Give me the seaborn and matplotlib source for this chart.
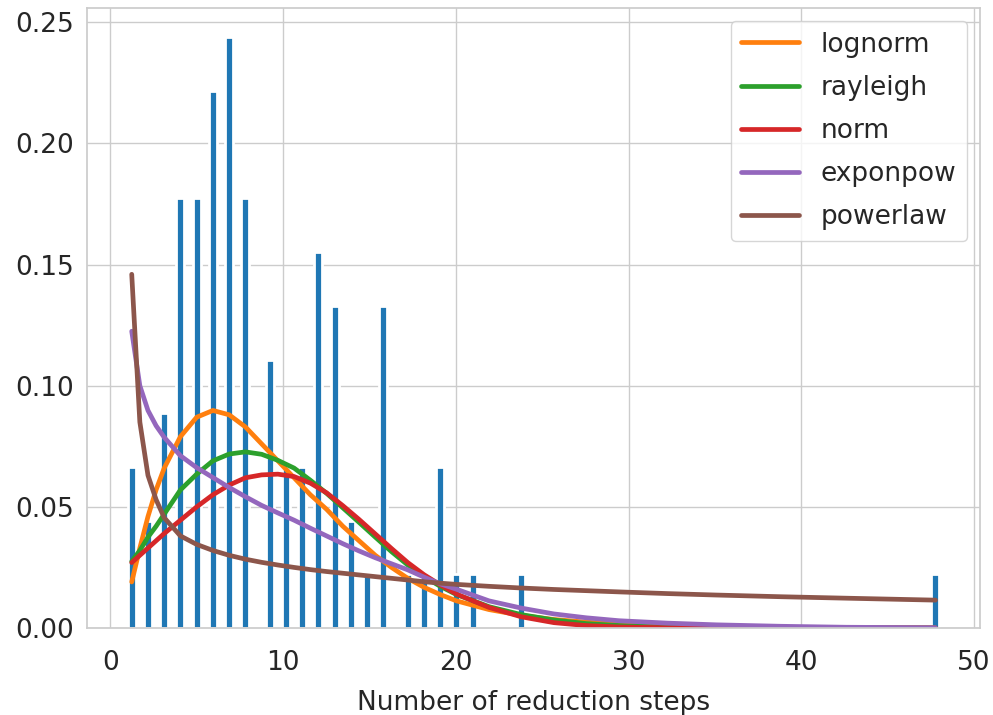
import matplotlib
matplotlib.use("Agg")
import matplotlib.pyplot as plt
import seaborn as sns
import numpy as np

# observed number of reduction steps and how often each occurred
steps = [1, 2, 3, 4, 5, 6, 7, 8, 9, 10, 11, 12, 13, 14, 15, 16, 17, 18, 19, 20, 21, 24, 48]
counts = [3, 2, 4, 8, 8, 10, 11, 8, 5, 3, 3, 7, 6, 2, 1, 6, 1, 1, 3, 1, 1, 1, 1]

fit_x = [1.24, 1.71, 2.18, 2.65, 3.12, 4.06, 5.00, 5.94, 6.88, 7.82, 8.76, 9.70,
         10.64, 11.58, 12.52, 13.46, 14.40, 15.34, 16.28, 17.22, 18.16, 19.10,
         20.04, 21.92, 23.80, 25.68, 27.56, 29.44, 32.26, 35.08, 38.84, 42.60, 47.77]
lognorm = [0.0190, 0.0330, 0.0460, 0.0570, 0.0660, 0.0790, 0.0870, 0.0898, 0.0880,
           0.0830, 0.0760, 0.0690, 0.0620, 0.0550, 0.0490, 0.0420, 0.0360, 0.0300,
           0.0250, 0.0205, 0.0168, 0.0138, 0.0112, 0.0076, 0.0052, 0.0035, 0.0024,
           0.0016, 0.0009, 0.0005, 0.0002, 0.0001, 0.0000]
rayleigh = [0.0275, 0.0320, 0.0375, 0.0420, 0.0470, 0.0570, 0.0635, 0.0690, 0.0718,
            0.0727, 0.0717, 0.0692, 0.0660, 0.0610, 0.0556, 0.0496, 0.0436, 0.0375,
            0.0315, 0.0260, 0.0212, 0.0172, 0.0138, 0.0088, 0.0055, 0.0033, 0.0018,
            0.0010, 0.0003, 0.0001, 0.0000, 0.0000, 0.0000]
norm = [0.0270, 0.0300, 0.0330, 0.0360, 0.0390, 0.0445, 0.0500, 0.0550, 0.0590,
        0.0620, 0.0632, 0.0635, 0.0625, 0.0598, 0.0558, 0.0505, 0.0448, 0.0388,
        0.0328, 0.0270, 0.0220, 0.0178, 0.0140, 0.0085, 0.0046, 0.0022, 0.0010,
        0.0004, 0.0001, 0.0000, 0.0000, 0.0000, 0.0000]
exponpow = [0.1225, 0.1000, 0.0898, 0.0835, 0.0787, 0.0711, 0.0662, 0.0621, 0.0580,
            0.0542, 0.0506, 0.0475, 0.0445, 0.0412, 0.0380, 0.0348, 0.0318, 0.0290,
            0.0265, 0.0240, 0.0210, 0.0182, 0.0160, 0.0112, 0.0082, 0.0058, 0.0042,
            0.0030, 0.0020, 0.0013, 0.0007, 0.0003, 0.0001]
powerlaw = [0.1460, 0.0850, 0.0630, 0.0530, 0.0455, 0.0380, 0.0345, 0.0320, 0.0300,
            0.0284, 0.0271, 0.0260, 0.0250, 0.0241, 0.0233, 0.0226, 0.0219, 0.0212,
            0.0205, 0.0198, 0.0191, 0.0185, 0.0180, 0.0172, 0.0165, 0.0159, 0.0154,
            0.0149, 0.0142, 0.0136, 0.0129, 0.0123, 0.0115]

fits = {"lognorm": lognorm, "rayleigh": rayleigh, "norm": norm,
        "exponpow": exponpow, "powerlaw": powerlaw}
# matplotlib tab10 colours, not seaborn's deep palette
fit_colors = ["#ff7f0e", "#2ca02c", "#d62728", "#9467bd", "#8c564b"]

sns.set_theme(style="whitegrid")
fs = 19
plt.rcParams.update({"font.size": fs, "xtick.labelsize": fs, "ytick.labelsize": fs,
                     "axes.labelsize": fs, "legend.fontsize": fs})

samples = np.repeat(steps, counts)

fig, ax = plt.subplots(figsize=(9.93, 7.15), dpi=100)
fig.subplots_adjust(left=0.0876, right=0.987, bottom=0.1217, top=0.989)

sns.histplot(x=samples, bins=100, stat="density", color="#1f77b4", alpha=1,
             edgecolor="white", linewidth=2, ax=ax)

for (name, vals), col in zip(fits.items(), fit_colors):
    sns.lineplot(x=fit_x, y=vals, color=col, linewidth=3.4, label=name, ax=ax)

ax.set_xlabel("Number of reduction steps", labelpad=10)
ax.set_ylabel("")
ax.set_xticks([0, 10, 20, 30, 40, 50])
ax.set_yticks([0.0, 0.05, 0.10, 0.15, 0.20, 0.25])
ax.tick_params(axis="x", pad=10)
ax.legend(loc="upper right", labelspacing=0.65, handlelength=2.2)

fig.savefig("out.png", dpi=100)
